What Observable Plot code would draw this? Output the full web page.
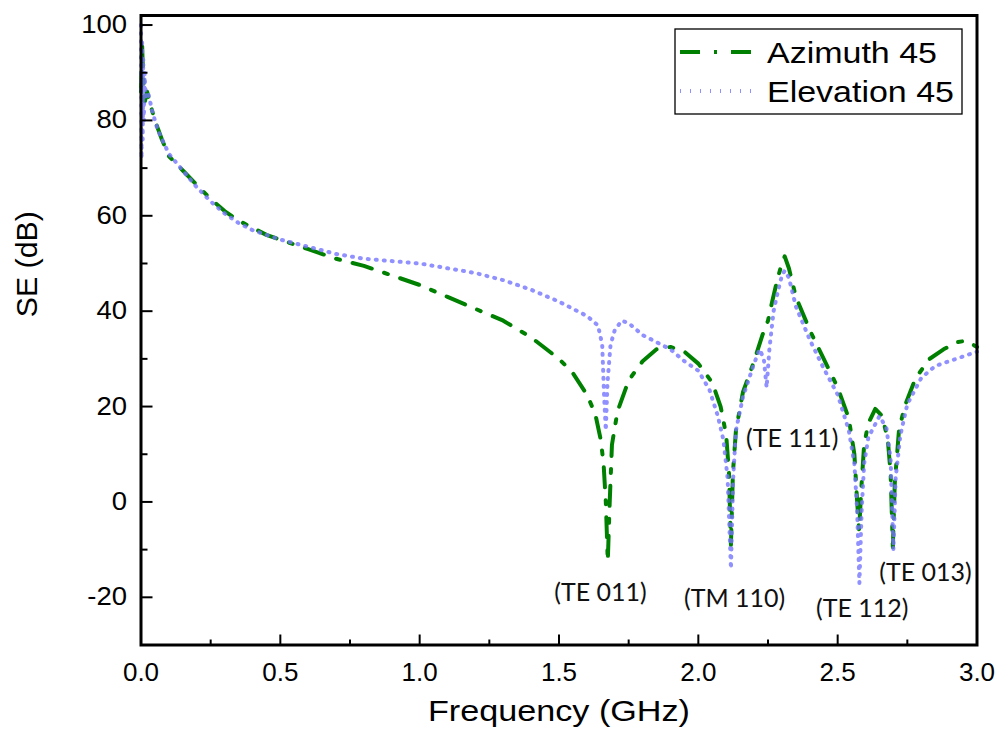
<!DOCTYPE html>
<html><head><meta charset="utf-8">
<script src="https://cdn.jsdelivr.net/npm/d3@7"></script>
<script src="https://cdn.jsdelivr.net/npm/@observablehq/plot@0.6"></script>
<style>
body{margin:0;background:#fff}
#chart{position:relative;width:999px;height:738px}
</style>
</head><body><div id="chart"></div>
<script>
// ---- data ----
const azFreq = [0.000,0.004,0.006,0.008,0.010,0.014,0.022,0.035,0.05,0.075,0.1,0.15,0.2,0.25,0.3,0.35,0.4,0.45,0.5,0.6,0.7,0.8,0.9,1.0,1.1,1.2,1.3,1.4,1.5,1.55,1.6,1.63,1.65,1.66,1.668,1.675,1.682,1.69,1.71,1.75,1.8,1.85,1.9,1.95,2.0,2.05,2.08,2.1,2.11,2.117,2.124,2.135,2.16,2.2,2.23,2.25,2.265,2.285,2.3,2.31,2.325,2.35,2.4,2.45,2.5,2.54,2.56,2.57,2.577,2.585,2.595,2.61,2.635,2.66,2.68,2.69,2.698,2.705,2.72,2.74,2.78,2.83,2.88,2.93,2.96,3.0];
const azSE   = [86,96,92,90,87,84,86,83,80,76,72.5,69.5,66.5,63.5,61,59,57.5,56,55,53,51,49.5,47.5,45.5,43,40.5,38,34.5,30,27,22.5,18.5,13,8,0,-12.5,0,12,19,25.5,29.5,32,32.5,31.5,29,25,20,14,6,-9,6,15,23,29.5,35,38,42,47,50,51.5,49,43,36,30,24,17.5,10,0,-6,3,12,16.5,19.5,18,13,6,-9.5,4,15,20,26,30,32,33.5,33.8,32.5];

const elFreq = [0.000,0.002,0.004,0.006,0.008,0.010,0.013,0.017,0.025,0.04,0.06,0.1,0.15,0.2,0.25,0.3,0.35,0.4,0.45,0.5,0.6,0.7,0.8,0.9,1.0,1.1,1.2,1.3,1.4,1.5,1.55,1.6,1.64,1.655,1.662,1.668,1.674,1.685,1.7,1.725,1.75,1.8,1.85,1.9,1.95,2.0,2.04,2.07,2.09,2.105,2.117,2.125,2.135,2.16,2.2,2.22,2.235,2.245,2.255,2.27,2.285,2.3,2.31,2.325,2.35,2.4,2.45,2.5,2.54,2.56,2.57,2.578,2.586,2.595,2.61,2.65,2.675,2.69,2.7,2.708,2.725,2.75,2.8,2.85,2.9,2.95,3.0];
const elSE   = [100,72,97,76,93,80,90,85,86,82,78,73,69.5,66,63,60.5,58.5,57,56,55,53.5,52,51,50.5,50,49,48,46.5,44.5,42,40.5,39,37,33,22,15,25,33,36,38,37.5,35,33.5,32,29.5,27.5,23.5,18,13,5,-14,5,15,22,29,32,30,24,32,40,44,47.5,48.5,47,41,34,28,22.5,15,8,-2,-17,-2,8,13.5,18,15.5,9,-10,5,14,20.5,26,28.5,29.5,30.5,31.5];

const seriesNames = ["Azimuth 45", "Elevation 45"];
const annLabels = ["(TE 011)", "(TM 110)", "(TE 111)", "(TE 112)", "(TE 013)"];
const annFreq   = [1.649, 2.130, 2.337, 2.588, 2.815];
const annSE     = [-19.2, -20.3, 13.1, -22.4, -15.0];

const xMajor = [0, 0.5, 1.0, 1.5, 2.0, 2.5, 3.0];
const xMinor = [0.25, 0.75, 1.25, 1.75, 2.25, 2.75];
const yMajor = [-20, 0, 20, 40, 60, 80, 100];
const yMinor = [-10, 10, 30, 50, 70, 90];
const xTitle = "Frequency (GHz)";
const yTitle = "SE (dB)";

// ---- layout ----
const W = 999, H = 738;
const mL = 140.5, mR = 22.5, mT = 15, mB = 93.5;
const pW = W - mL - mR, pH = H - mT - mB;
const green = "#008000", blue = "#7474ff";
const sans = "'Liberation Sans', Arial, sans-serif";

const az = azFreq.map((f, i) => ({f, se: azSE[i]}));
const el = elFreq.map((f, i) => ({f, se: elSE[i]}));
const ann = annLabels.map((t, i) => ({t, f: annFreq[i], se: annSE[i]}));

const chart = Plot.plot({
  width: W, height: H,
  marginLeft: mL, marginRight: mR, marginTop: mT, marginBottom: mB,
  style: {fontFamily: sans, background: "#fff", color: "#000"},
  x: {domain: [0, 3]},
  y: {domain: [-30, 102]},
  marks: [
    Plot.line(az, {x: "f", y: "se", stroke: green, strokeWidth: 4, strokeDasharray: "20,13,4,13", strokeLinejoin: "round"}),
    Plot.line(el, {x: "f", y: "se", stroke: blue, strokeWidth: 4, strokeDasharray: "1,7", strokeOpacity: 0.8}),
    Plot.text(ann, {x: "f", y: "se", text: "t", fontFamily: "Lato, 'Open Sans', sans-serif", fontSize: 25, fill: "#111"}),
    Plot.tickY(yMajor, {stroke: "#000", strokeWidth: 2, insetRight: pW - 12}),
    Plot.tickY(yMinor, {stroke: "#000", strokeWidth: 2, insetRight: pW - 7}),
    Plot.tickX(xMajor, {stroke: "#000", strokeWidth: 2, insetTop: pH - 10}),
    Plot.tickX(xMinor, {stroke: "#000", strokeWidth: 2, insetTop: pH - 5}),
    Plot.axisY({ticks: yMajor, tickSize: 0, tickPadding: 14, label: null, fontSize: 25, tickFormat: d => String(d)}),
    Plot.axisX({ticks: xMajor, tickSize: 0, tickPadding: 18, label: null, tickFormat: d3.format(".1f"), fontSize: 25}),
    Plot.text([xTitle], {text: d => d, frameAnchor: "bottom", dy: 76, fontSize: 30}),
    Plot.text([yTitle], {text: d => d, frameAnchor: "left", rotate: -90, dx: -113.5, dy: -13, fontSize: 30}),
    Plot.frame({stroke: "#000", strokeWidth: 3})
  ]
});
document.getElementById("chart").appendChild(chart);

const svg = d3.select(chart);

// widen text horizontally like the reference glyphs (scale about each label's anchor)
function stretch(sel, sx) {
  sel.each(function() {
    const t = d3.select(this);
    const tr = t.attr("transform") || "";
    t.attr("transform", tr + ` scale(${sx},1)`);
  });
}
stretch(svg.selectAll('g[aria-label="y-axis tick label"] text'), 1.1);
stretch(svg.selectAll('g[aria-label="x-axis tick label"] text'), 1.04);
svg.selectAll("text").filter(function() { return this.textContent === xTitle; })
  .attr("textLength", 262).attr("lengthAdjust", "spacingAndGlyphs");
svg.selectAll("text").filter(function() { return this.textContent === yTitle; })
  .attr("textLength", 106).attr("lengthAdjust", "spacingAndGlyphs");

// ---- legend inside the plot ----
const lg = svg.append("g").attr("font-family", sans).attr("text-anchor", "start");
lg.append("rect").attr("x", 675).attr("y", 29).attr("width", 287).attr("height", 85)
  .attr("fill", "#fff").attr("stroke", "#000").attr("stroke-width", 1.3);
const rows = [
  {name: seriesNames[0], stroke: green, dash: "20,14,3,14", op: 1, y: 52, len: 170},
  {name: seriesNames[1], stroke: blue, dash: "1,9", op: 0.8, y: 91, len: 187}
];
rows.forEach(r => {
  lg.append("line").attr("x1", 680).attr("x2", 753).attr("y1", r.y).attr("y2", r.y)
    .attr("stroke", r.stroke).attr("stroke-width", 4).attr("stroke-dasharray", r.dash).attr("stroke-opacity", r.op);
  lg.append("text").attr("x", 767).attr("y", r.y + 11).attr("font-size", 30).attr("fill", "#000")
    .attr("textLength", r.len).attr("lengthAdjust", "spacingAndGlyphs").text(r.name);
});
</script>
</body></html>
